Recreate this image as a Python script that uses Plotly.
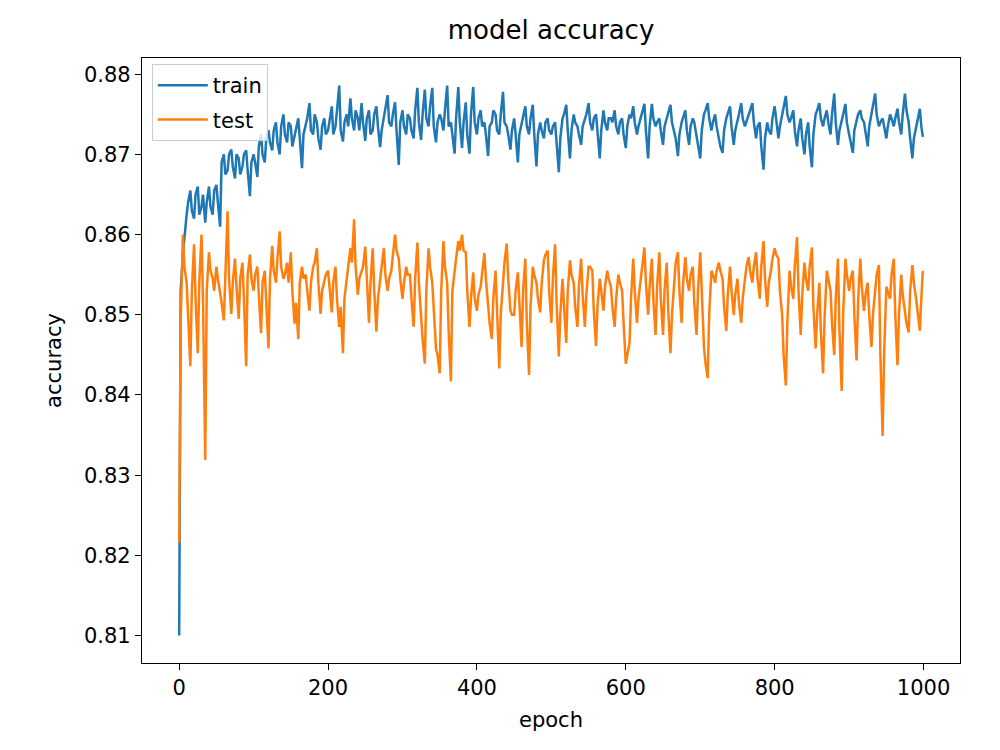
import plotly.graph_objects as go

# epochs sampled on a 5-epoch grid, plus in-between readings at epoch 5k+2
epochs_main = list(range(0, 1000, 5)) + [999]
epochs_mid = list(range(2, 1000, 5))

train_acc = [
    0.8100, 0.8575, 0.8625, 0.8655, 0.8620, 0.8660, 0.8635, 0.8615, 0.8660, 0.8625, 0.8662, 0.8610, 0.8700, 0.8680, 0.8706, 0.8670, 0.8695, 0.8685, 0.8705, 0.8648,
    0.8700, 0.8672, 0.8725, 0.8690, 0.8730, 0.8705, 0.8740, 0.8700, 0.8750, 0.8715, 0.8735, 0.8725, 0.8745, 0.8683, 0.8735, 0.8764, 0.8725, 0.8740, 0.8706, 0.8745,
    0.8730, 0.8760, 0.8735, 0.8786, 0.8716, 0.8750, 0.8770, 0.8730, 0.8745, 0.8764, 0.8717, 0.8755, 0.8730, 0.8760, 0.8709, 0.8745, 0.8774, 0.8735, 0.8765, 0.8687,
    0.8755, 0.8725, 0.8745, 0.8720, 0.8783, 0.8718, 0.8781, 0.8735, 0.8783, 0.8715, 0.8750, 0.8730, 0.8786, 0.8740, 0.8701, 0.8784, 0.8708, 0.8765, 0.8701, 0.8784,
    0.8725, 0.8755, 0.8740, 0.8698, 0.8740, 0.8750, 0.8725, 0.8778, 0.8735, 0.8706, 0.8745, 0.8690, 0.8740, 0.8760, 0.8725, 0.8762, 0.8685, 0.8740, 0.8720, 0.8745,
    0.8725, 0.8740, 0.8678, 0.8745, 0.8762, 0.8695, 0.8750, 0.8735, 0.8712, 0.8745, 0.8764, 0.8730, 0.8750, 0.8695, 0.8755, 0.8730, 0.8745, 0.8755, 0.8725, 0.8745,
    0.8708, 0.8750, 0.8760, 0.8725, 0.8745, 0.8763, 0.8695, 0.8763, 0.8735, 0.8745, 0.8712, 0.8745, 0.8762, 0.8730, 0.8698, 0.8740, 0.8755, 0.8712, 0.8745, 0.8725,
    0.8695, 0.8750, 0.8764, 0.8730, 0.8750, 0.8720, 0.8702, 0.8745, 0.8760, 0.8712, 0.8740, 0.8764, 0.8735, 0.8750, 0.8764, 0.8720, 0.8740, 0.8681, 0.8740, 0.8725,
    0.8760, 0.8720, 0.8750, 0.8773, 0.8740, 0.8755, 0.8710, 0.8745, 0.8700, 0.8740, 0.8684, 0.8750, 0.8764, 0.8735, 0.8755, 0.8725, 0.8776, 0.8712, 0.8745, 0.8763,
    0.8725, 0.8702, 0.8745, 0.8755, 0.8740, 0.8710, 0.8750, 0.8776, 0.8735, 0.8745, 0.8720, 0.8750, 0.8735, 0.8757, 0.8725, 0.8776, 0.8740, 0.8695, 0.8735, 0.8757, 0.8722,
]

train_acc_mid = [
    0.8530, 0.8600, 0.8640, 0.8630, 0.8650, 0.8625, 0.8650, 0.8640, 0.8635, 0.8655, 0.8640, 0.8690, 0.8675, 0.8700, 0.8685, 0.8700, 0.8675, 0.8700, 0.8680, 0.8690,
    0.8690, 0.8710, 0.8700, 0.8720, 0.8715, 0.8730, 0.8715, 0.8735, 0.8725, 0.8740, 0.8710, 0.8735, 0.8720, 0.8725, 0.8745, 0.8730, 0.8750, 0.8720, 0.8735, 0.8725,
    0.8745, 0.8725, 0.8755, 0.8730, 0.8740, 0.8735, 0.8745, 0.8755, 0.8730, 0.8740, 0.8745, 0.8725, 0.8750, 0.8735, 0.8730, 0.8755, 0.8740, 0.8750, 0.8730, 0.8740,
    0.8735, 0.8750, 0.8730, 0.8755, 0.8740, 0.8750, 0.8745, 0.8760, 0.8735, 0.8740, 0.8745, 0.8755, 0.8735, 0.8725, 0.8745, 0.8740, 0.8740, 0.8725, 0.8750, 0.8740,
    0.8745, 0.8735, 0.8725, 0.8735, 0.8755, 0.8730, 0.8750, 0.8740, 0.8725, 0.8730, 0.8725, 0.8725, 0.8750, 0.8735, 0.8745, 0.8725, 0.8725, 0.8730, 0.8740, 0.8730,
    0.8735, 0.8715, 0.8720, 0.8750, 0.8730, 0.8730, 0.8740, 0.8725, 0.8735, 0.8750, 0.8740, 0.8745, 0.8725, 0.8730, 0.8740, 0.8745, 0.8740, 0.8735, 0.8740, 0.8725,
    0.8735, 0.8745, 0.8740, 0.8735, 0.8750, 0.8730, 0.8735, 0.8745, 0.8740, 0.8730, 0.8735, 0.8750, 0.8740, 0.8720, 0.8725, 0.8745, 0.8730, 0.8735, 0.8740, 0.8710,
    0.8730, 0.8755, 0.8745, 0.8740, 0.8735, 0.8710, 0.8730, 0.8750, 0.8735, 0.8730, 0.8750, 0.8745, 0.8740, 0.8755, 0.8740, 0.8735, 0.8710, 0.8720, 0.8730, 0.8745,
    0.8740, 0.8735, 0.8760, 0.8750, 0.8745, 0.8730, 0.8730, 0.8720, 0.8725, 0.8710, 0.8725, 0.8755, 0.8745, 0.8745, 0.8740, 0.8750, 0.8740, 0.8730, 0.8750, 0.8740,
    0.8715, 0.8730, 0.8750, 0.8745, 0.8725, 0.8735, 0.8760, 0.8750, 0.8740, 0.8735, 0.8735, 0.8745, 0.8745, 0.8740, 0.8750, 0.8755, 0.8720, 0.8720, 0.8745, 0.8735,
]

test_acc = [
    0.8216, 0.8600, 0.8540, 0.8436, 0.8588, 0.8452, 0.8600, 0.8319, 0.8578, 0.8545, 0.8560, 0.8530, 0.8493, 0.8629, 0.8501, 0.8570, 0.8495, 0.8565, 0.8436, 0.8575,
    0.8530, 0.8560, 0.8477, 0.8555, 0.8458, 0.8586, 0.8540, 0.8604, 0.8545, 0.8565, 0.8578, 0.8489, 0.8470, 0.8560, 0.8550, 0.8505, 0.8560, 0.8583, 0.8501, 0.8545,
    0.8555, 0.8503, 0.8560, 0.8485, 0.8452, 0.8545, 0.8583, 0.8619, 0.8525, 0.8555, 0.8585, 0.8490, 0.8583, 0.8479, 0.8540, 0.8583, 0.8530, 0.8555, 0.8600, 0.8570,
    0.8520, 0.8560, 0.8550, 0.8485, 0.8590, 0.8495, 0.8439, 0.8583, 0.8540, 0.8458, 0.8427, 0.8592, 0.8540, 0.8417, 0.8560, 0.8592, 0.8600, 0.8578, 0.8485, 0.8553,
    0.8505, 0.8535, 0.8577, 0.8510, 0.8470, 0.8555, 0.8433, 0.8540, 0.8589, 0.8505, 0.8500, 0.8553, 0.8460, 0.8570, 0.8425, 0.8560, 0.8540, 0.8503, 0.8568, 0.8580,
    0.8490, 0.8588, 0.8448, 0.8545, 0.8465, 0.8568, 0.8540, 0.8485, 0.8570, 0.8485, 0.8560, 0.8555, 0.8461, 0.8545, 0.8505, 0.8555, 0.8535, 0.8485, 0.8550, 0.8530,
    0.8439, 0.8465, 0.8570, 0.8490, 0.8545, 0.8584, 0.8500, 0.8570, 0.8475, 0.8578, 0.8475, 0.8565, 0.8452, 0.8540, 0.8578, 0.8490, 0.8572, 0.8530, 0.8560, 0.8475,
    0.8578, 0.8460, 0.8421, 0.8555, 0.8540, 0.8565, 0.8545, 0.8480, 0.8560, 0.8500, 0.8545, 0.8490, 0.8545, 0.8572, 0.8540, 0.8578, 0.8520, 0.8592, 0.8510, 0.8555,
    0.8583, 0.8570, 0.8500, 0.8412, 0.8555, 0.8520, 0.8597, 0.8475, 0.8565, 0.8530, 0.8584, 0.8458, 0.8540, 0.8427, 0.8555, 0.8530, 0.8450, 0.8570, 0.8405, 0.8570,
    0.8530, 0.8555, 0.8443, 0.8570, 0.8505, 0.8540, 0.8460, 0.8530, 0.8562, 0.8349, 0.8535, 0.8520, 0.8570, 0.8437, 0.8550, 0.8500, 0.8478, 0.8562, 0.8520, 0.8480, 0.8555,
]

test_acc_mid = [
    0.8490, 0.8560, 0.8500, 0.8530, 0.8520, 0.8540, 0.8520, 0.8530, 0.8555, 0.8530, 0.8545, 0.8515, 0.8560, 0.8545, 0.8540, 0.8535, 0.8545, 0.8520, 0.8550, 0.8545,
    0.8550, 0.8525, 0.8540, 0.8515, 0.8545, 0.8555, 0.8570, 0.8560, 0.8550, 0.8540, 0.8530, 0.8515, 0.8540, 0.8545, 0.8530, 0.8540, 0.8565, 0.8540, 0.8530, 0.8550,
    0.8530, 0.8540, 0.8520, 0.8510, 0.8520, 0.8560, 0.8565, 0.8560, 0.8545, 0.8560, 0.8545, 0.8540, 0.8530, 0.8520, 0.8560, 0.8550, 0.8545, 0.8570, 0.8580, 0.8545,
    0.8540, 0.8550, 0.8520, 0.8545, 0.8540, 0.8470, 0.8530, 0.8560, 0.8500, 0.8450, 0.8530, 0.8560, 0.8480, 0.8530, 0.8570, 0.8580, 0.8580, 0.8530, 0.8520, 0.8520,
    0.8525, 0.8550, 0.8545, 0.8490, 0.8520, 0.8500, 0.8500, 0.8565, 0.8545, 0.8500, 0.8530, 0.8510, 0.8530, 0.8490, 0.8510, 0.8550, 0.8520, 0.8540, 0.8575, 0.8530,
    0.8545, 0.8515, 0.8500, 0.8510, 0.8530, 0.8550, 0.8510, 0.8535, 0.8525, 0.8525, 0.8560, 0.8505, 0.8510, 0.8530, 0.8535, 0.8545, 0.8510, 0.8520, 0.8540, 0.8490,
    0.8450, 0.8520, 0.8530, 0.8520, 0.8565, 0.8540, 0.8535, 0.8520, 0.8535, 0.8520, 0.8530, 0.8505, 0.8500, 0.8565, 0.8530, 0.8540, 0.8545, 0.8550, 0.8515, 0.8530,
    0.8520, 0.8440, 0.8500, 0.8550, 0.8555, 0.8555, 0.8510, 0.8525, 0.8530, 0.8525, 0.8515, 0.8520, 0.8560, 0.8555, 0.8560, 0.8545, 0.8560, 0.8545, 0.8540, 0.8570,
    0.8575, 0.8530, 0.8450, 0.8490, 0.8535, 0.8560, 0.8530, 0.8525, 0.8545, 0.8560, 0.8510, 0.8500, 0.8480, 0.8495, 0.8545, 0.8490, 0.8520, 0.8480, 0.8500, 0.8550,
    0.8545, 0.8500, 0.8515, 0.8535, 0.8525, 0.8500, 0.8500, 0.8550, 0.8450, 0.8450, 0.8530, 0.8550, 0.8500, 0.8500, 0.8525, 0.8490, 0.8530, 0.8540, 0.8500, 0.8520,
]

x_ticks = [0, 200, 400, 600, 800, 1000]
y_ticks = [0.81, 0.82, 0.83, 0.84, 0.85, 0.86, 0.87, 0.88]


def merged(main_vals, mid_vals):
    pts = sorted(zip(epochs_main + epochs_mid, main_vals + mid_vals))
    return [p[0] for p in pts], [p[1] for p in pts]


train_x, train_y = merged(train_acc, train_acc_mid)
test_x, test_y = merged(test_acc, test_acc_mid)

FONT = "DejaVu Sans"

fig = go.Figure()
fig.add_trace(go.Scatter(x=train_x, y=train_y, mode="lines", name="train", legendgroup="train",
                         line=dict(color="#1f77b4", width=2.5)))
fig.add_trace(go.Scatter(x=test_x, y=test_y, mode="lines", name="test", legendgroup="test",
                         line=dict(color="#ff7f0e", width=2.5)))

axis_common = dict(showline=True, linecolor="black", linewidth=1.3, mirror=True,
                   ticks="outside", ticklen=6, tickwidth=1.3, tickcolor="black",
                   showgrid=False, zeroline=False,
                   tickfont=dict(family=FONT, size=21, color="black"))

fig.update_layout(
    width=1000, height=750,
    paper_bgcolor="white", plot_bgcolor="white",
    margin=dict(l=142, r=40, t=58, b=87),
    title=dict(text="model accuracy", x=0.551, xanchor="center", y=0.96, yanchor="middle",
               font=dict(family=FONT, size=26, color="black")),
    xaxis=dict(range=[-49.95, 1048.95], tickvals=x_ticks,
               title=dict(text="epoch", font=dict(family=FONT, size=21, color="black"), standoff=12),
               **axis_common),
    yaxis=dict(range=[0.80657, 0.88203], tickvals=y_ticks, tickformat=".2f",
               title=dict(text="accuracy", font=dict(family=FONT, size=21, color="black"), standoff=16),
               **axis_common),
    legend=dict(x=0.012, y=0.99, xanchor="left", yanchor="top",
                bgcolor="rgba(255,255,255,0.8)", bordercolor="#cccccc", borderwidth=1,
                font=dict(family=FONT, size=21, color="black"), itemwidth=50,
                tracegroupgap=4),
    showlegend=True,
)

fig.write_html("out.html")
